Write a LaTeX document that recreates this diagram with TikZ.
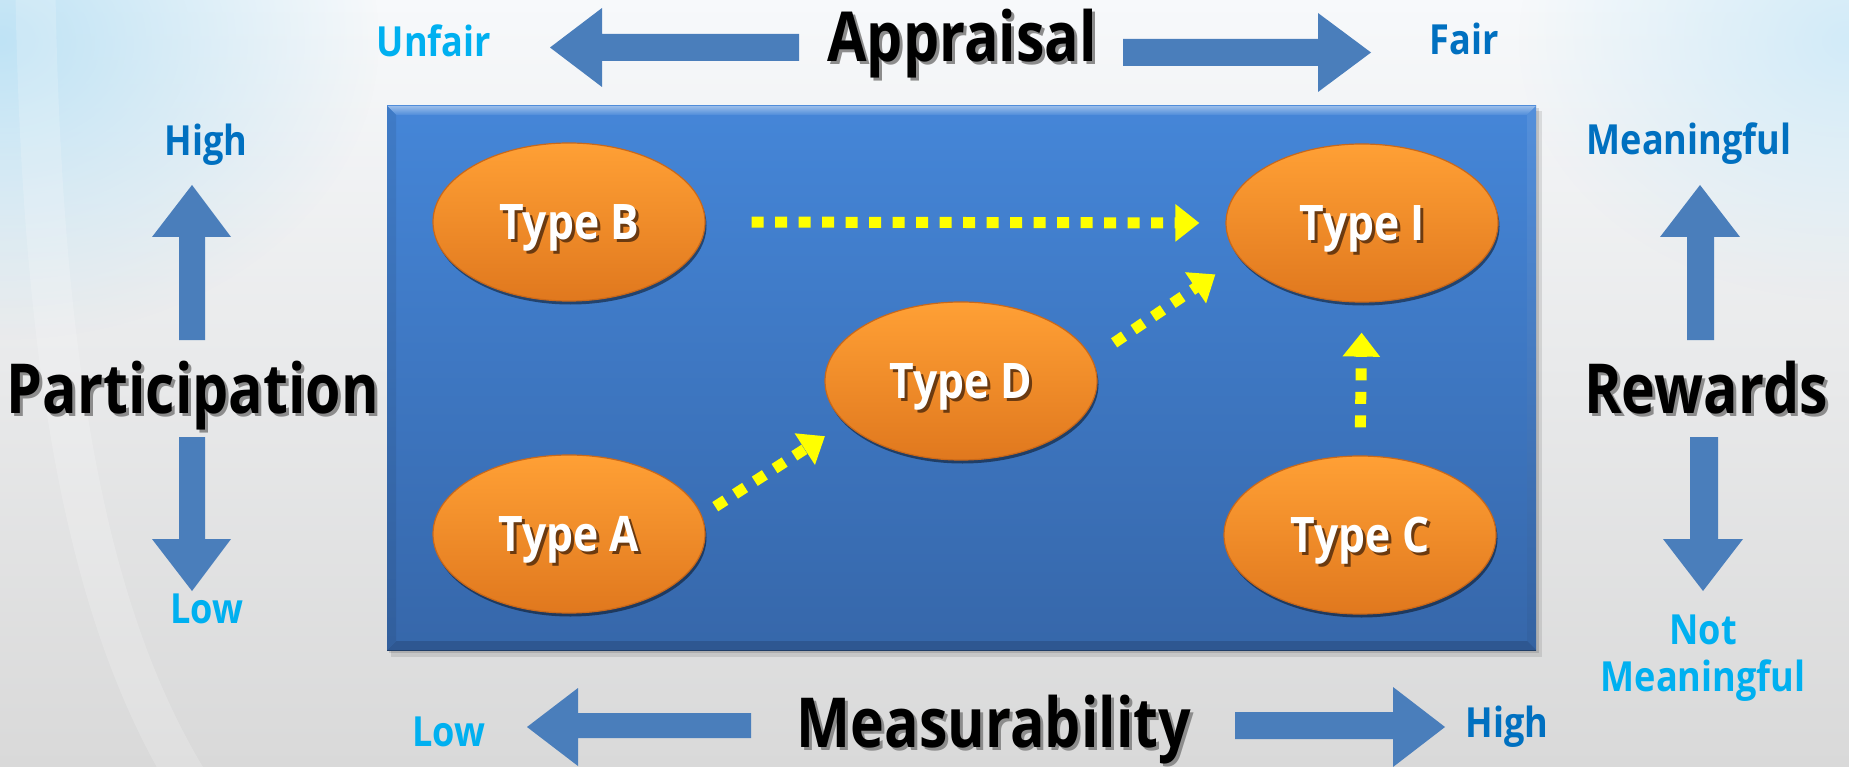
\documentclass[tikz,border=0pt]{standalone}
\usepackage{fontspec}
\usetikzlibrary{arrows.meta,shapes.geometric,fadings,shadows}
\newfontfamily\uifont[FakeStretch=0.87]{Open Sans}
\newfontfamily\headfont[FakeStretch=0.83]{Open Sans}

\definecolor{bgTop}{HTML}{F7F9FB}
\definecolor{bgMid}{HTML}{EDEDED}
\definecolor{bgBot}{HTML}{D9D9D9}
\definecolor{glowBlue}{HTML}{BFE3F5}
\definecolor{axisblue}{HTML}{4A7EBB}
\definecolor{lblCyan}{HTML}{00B0F0}
\definecolor{lblBlue}{HTML}{0070C0}
\definecolor{flowyellow}{HTML}{FFFF00}
\definecolor{panelTop}{HTML}{4586D8}
\definecolor{panelBot}{HTML}{3667AA}
\definecolor{orangeTop}{HTML}{FFA035}
\definecolor{orangeBot}{HTML}{E0781E}
\definecolor{orangeRim}{HTML}{C9681A}
\definecolor{typeShadow}{HTML}{6B3A10}

\tikzfading[name=softglow, inner color=transparent!0, outer color=transparent!100]

% text with an offset shadow drawn beneath it
\newcommand\castshadow[3]{\makebox[0pt][l]{\kern#3\raisebox{-#3}{\textcolor{#1}{#2}}}#2}
\newcommand\titlefont{\headfont\bfseries\fontsize{69}{69}\selectfont}
\newcommand\typefont{\uifont\bfseries\fontsize{49}{49}\selectfont}
\newcommand\tipfont{\uifont\bfseries\fontsize{41.5}{41.5}\selectfont}

\tikzset{
  typebox/.style={ellipse, minimum width=272pt, minimum height=158pt, inner sep=0pt,
    top color=orangeTop, bottom color=orangeBot, draw=orangeRim, line width=1.2pt,
    text=white, font=\typefont, text height=35pt, text depth=0pt,
    drop shadow={shadow xshift=1.5pt, shadow yshift=-3.5pt, fill=black, opacity=0.45}},
  flowarrow/.style={draw=flowyellow, line width=11pt, dash pattern=on 12pt off 11.5pt,
    -{Triangle[length=24pt,width=36pt]}},
  axisarrow/.style={fill=axisblue},
  axistitle/.style={font=\titlefont, anchor=base, text=black},
  endlabel/.style={font=\tipfont, anchor=base, align=center},
}

\begin{document}
\begin{tikzpicture}[x=1pt,y=-1pt]
\useasboundingbox (0,0) rectangle (1849,767);

% backdrop
\shade[top color=bgTop, middle color=bgMid, bottom color=bgBot] (0,0) rectangle (1849,767);
\fill[glowBlue, path fading=softglow] (0,40) ellipse [x radius=380pt, y radius=300pt];
\fill[glowBlue!70, path fading=softglow] (1849,40) ellipse [x radius=330pt, y radius=260pt];
\draw[white, line width=40pt, opacity=0.18]
  (35,-40) .. controls (40,400) and (95,640) .. (200,800);

% panel shadow
\fill[black, opacity=0.10] (391,111) rectangle (1542,657);
\fill[black, opacity=0.12] (389,108) rectangle (1539,653);

% panel body and bevels
\shade[top color=panelTop, bottom color=panelBot] (387,106) rectangle (1536,650);
\shade[top color=white!45!panelTop, bottom color=panelTop!95!white]
  (387,106) -- (1536,106) -- (1527,115) -- (396,115) -- cycle;
\shade[top color=panelTop!92!white, bottom color=panelBot!95!black]
  (1536,106) -- (1536,650) -- (1527,641) -- (1527,115) -- cycle;
\fill[panelBot!85!black] (387,650) -- (1536,650) -- (1527,641) -- (396,641) -- cycle;
\shade[top color=panelTop!92!black, bottom color=panelBot!92!black]
  (387,106) -- (396,115) -- (396,641) -- (387,650) -- cycle;
\draw[panelBot!60!black, line width=1pt] (387,650) -- (1536,650);

% the five types
\node[typebox] (B) at (569,222) {\castshadow{typeShadow}{Type B}{3pt}};
\node[typebox] (I) at (1362,223) {\castshadow{typeShadow}{Type I}{3pt}};
\node[typebox] (D) at (961,381) {\castshadow{typeShadow}{Type D}{3pt}};
\node[typebox] (A) at (569,534) {\castshadow{typeShadow}{Type A}{3pt}};
\node[typebox] (C) at (1360,535) {\castshadow{typeShadow}{Type C}{3pt}};

% moves between types
\draw[flowarrow, shorten <=46pt, shorten >=26pt] (B.east) -- (I.west);
\draw[flowarrow, shorten <=16pt, shorten >=24pt] (A.8) -- (D.200);
\draw[flowarrow, shorten <=27pt, shorten >=29pt] (D.10.5) -- (I.196.8);
\draw[flowarrow, shorten <=28pt, shorten >=30pt] (C.north) -- (I.south);

% axis block arrows
\fill[axisarrow] (799,34) -- (602,34) -- (602,8) -- (550,47.5) -- (602,87) -- (602,61) -- (799,61) -- cycle;
\fill[axisarrow] (1123,39) -- (1318,39) -- (1318,13) -- (1371,52.5) -- (1318,92) -- (1318,66) -- (1123,66) -- cycle;
\fill[axisarrow] (179,340) -- (179,237) -- (152,237) -- (192,185) -- (231,237) -- (205,237) -- (205,340) -- cycle;
\fill[axisarrow] (179,437) -- (179,539) -- (152,539) -- (192,591) -- (231,539) -- (205,539) -- (205,437) -- cycle;
\fill[axisarrow] (1687,340) -- (1687,237) -- (1660,237) -- (1700,185) -- (1740,237) -- (1714,237) -- (1714,340) -- cycle;
\fill[axisarrow] (1690,437) -- (1690,539) -- (1663,539) -- (1703,591) -- (1743,539) -- (1718,539) -- (1718,437) -- cycle;
\fill[axisarrow] (751,713) -- (578,713) -- (578,688) -- (527,727) -- (578,766) -- (578,738) -- (751,738) -- cycle;
\fill[axisarrow] (1235,712) -- (1393,712) -- (1393,687) -- (1445,727) -- (1393,767) -- (1393,739) -- (1235,739) -- cycle;

% axis titles
\node[axistitle] (appraisal) at (962,62) {\castshadow{black!45}{Appraisal}{3pt}};
\node[axistitle] (participation) at (193,413) {\castshadow{black!45}{Participation}{3pt}};
\node[axistitle] (rewards) at (1706,413) {\castshadow{black!45}{Rewards}{3pt}};
\node[axistitle] (measurability) at (994,747) {\castshadow{black!45}{Measurability}{3pt}};

% axis end labels
\node[endlabel, text=lblCyan] (unfair) at (434,57) {Unfair};
\node[endlabel, text=lblBlue] (fair) at (1464,55) {Fair};
\node[endlabel, text=lblBlue] (parthigh) at (206,156) {High};
\node[endlabel, text=lblCyan] (partlow) at (207,623) {Low};
\node[endlabel, text=lblBlue] (meaningful) at (1689,155) {Meaningful};
\node[endlabel, text=lblCyan, anchor=north, inner sep=0pt] (notmeaning) at (1703,615) {Not\\[5.5pt]Meaningful};
\node[endlabel, text=lblCyan] (measlow) at (449,746) {Low};
\node[endlabel, text=lblBlue] (meashigh) at (1507,737) {High};
\end{tikzpicture}
\end{document}
